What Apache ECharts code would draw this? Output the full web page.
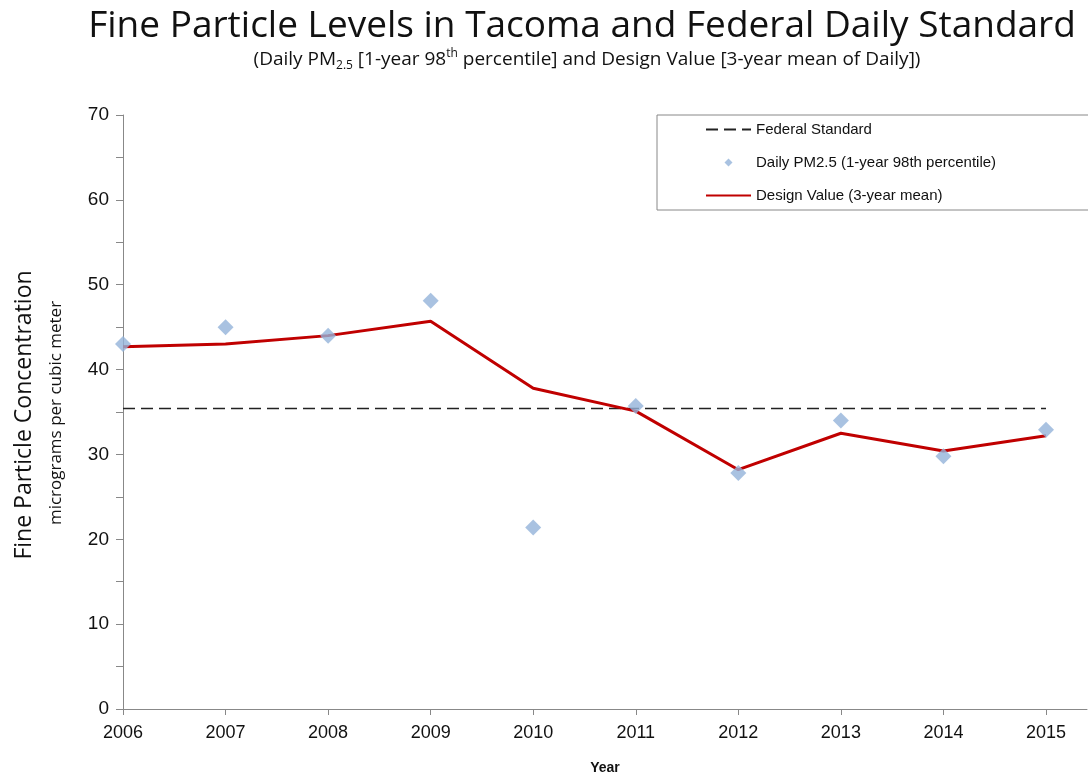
<!DOCTYPE html>
<html>
<head>
<meta charset="utf-8">
<script src="https://cdn.jsdelivr.net/npm/echarts@6/dist/echarts.min.js"></script>
<style>
  html, body { margin: 0; padding: 0; background: #fff; }
  #chart { width: 1088px; height: 776px; }
</style>
</head>
<body>
<div id="chart"></div>
<script>
// 年份
var years = [2006, 2007, 2008, 2009, 2010, 2011, 2012, 2013, 2014, 2015]
// Daily PM2.5 (1-year 98th percentile)
var dailyPM = [43, 45, 44, 48.1, 21.4, 35.7, 27.8, 34, 29.8, 32.9]
// Design Value (3-year mean)
var designValue = [42.7, 43, 44, 45.7, 37.8, 35.1, 28.2, 32.5, 30.4, 32.2]
// Federal Standard
var fedStandard = [35.4, 35.4, 35.4, 35.4, 35.4, 35.4, 35.4, 35.4, 35.4, 35.4]
var yTicks = [0, 10, 20, 30, 40, 50, 60, 70]

function pairs(vals) {
  return years.map(function (y, i) { return [y, vals[i]] })
}

var chart = echarts.init(document.getElementById('chart'))
// 图例里线条不要圆点
var hideDot = { color: 'rgba(0,0,0,0)', borderWidth: 0, opacity: 0 }
// 小菱形图标，两个极小三角撑开 45x10 的框，菱形不被拉伸
var diamondIcon = 'path://M0,0L0.01,0L0,0.01Z M45,10L44.99,10L45,9.99Z M18.5,5L22.5,1L26.5,5L22.5,9Z'
var option = {
  animation: false,
  textStyle: { fontFamily: 'Liberation Sans' },
  grid: { left: 123, right: 1, top: 115, bottom: 67, outerBoundsMode: 'none' },
  graphic: [
    {
      type: 'text', x: 582, y: 26,
      style: {
        text: 'Fine Particle Levels in Tacoma and Federal Daily Standard',
        fontFamily: 'Open Sans', fontSize: 37, fill: '#111', align: 'center', verticalAlign: 'middle'
      }
    },
    {
      type: 'text', x: 587, y: 60,
      style: {
        text: '(Daily PM{sub|2.5} [1-year 98{sup|th} percentile] and Design Value [3-year mean of Daily])',
        fontFamily: 'Open Sans', fontSize: 19, fill: '#111', align: 'center', verticalAlign: 'middle', lineHeight: 24,
        rich: {
          sub: { fontFamily: 'Open Sans', fontSize: 12, verticalAlign: 'bottom', lineHeight: 24, fill: '#111' },
          sup: { fontFamily: 'Open Sans', fontSize: 12, verticalAlign: 'top', lineHeight: 16, fill: '#111' }
        }
      }
    },
    {
      type: 'text', x: 24, y: 415, rotation: Math.PI / 2,
      style: {
        text: 'Fine Particle Concentration',
        fontFamily: 'Open Sans', fontSize: 23, fill: '#111', align: 'center', verticalAlign: 'middle'
      }
    },
    {
      type: 'text', x: 56, y: 413, rotation: Math.PI / 2,
      style: {
        text: 'micrograms per cubic meter',
        fontFamily: 'Open Sans', fontSize: 17, fill: '#111', align: 'center', verticalAlign: 'middle'
      }
    }
  ],
  legend: {
    orient: 'vertical',
    left: 657,
    top: 115,
    padding: [7, 200, 7, 48],
    itemGap: 18,
    itemWidth: 45,
    itemHeight: 10,
    borderColor: '#888',
    borderWidth: 1,
    textStyle: { fontFamily: 'Liberation Sans', fontSize: 15, color: '#111' },
    data: [
      { name: 'Federal Standard', itemStyle: hideDot },
      { name: 'Daily PM2.5 (1-year 98th percentile)', icon: diamondIcon },
      { name: 'Design Value (3-year mean)', itemStyle: hideDot }
    ]
  },
  xAxis: {
    type: 'value',
    min: 2006,
    max: 2015.4,
    name: 'Year',
    nameLocation: 'middle',
    nameGap: 52,
    nameTextStyle: { fontFamily: 'Liberation Sans', fontSize: 14, fontWeight: 'bold', color: '#111' },
    axisLine: { lineStyle: { color: '#888', width: 1 } },
    axisTick: { customValues: years, length: 6, lineStyle: { color: '#888' } },
    axisLabel: {
      customValues: years,
      fontSize: 18, color: '#111', margin: 15,
      formatter: function (v) { return String(v) }
    },
    splitLine: { show: false }
  },
  yAxis: {
    type: 'value',
    min: 0,
    max: 70,
    interval: 5,
    axisLine: { show: true, lineStyle: { color: '#888', width: 1 } },
    axisTick: { show: true, length: 7, lineStyle: { color: '#888' } },
    axisLabel: {
      fontSize: 19, color: '#111', margin: 14,
      formatter: function (v) { return yTicks.indexOf(v) >= 0 ? String(v) : '' }
    },
    splitLine: { show: false }
  },
  series: [
    {
      name: 'Federal Standard',
      type: 'line',
      symbol: 'none',
      data: pairs(fedStandard),
      lineStyle: { color: '#222', width: 1.5, type: [12, 6] },
      itemStyle: { color: '#222' },
      z: 2
    },
    {
      name: 'Daily PM2.5 (1-year 98th percentile)',
      type: 'scatter',
      symbol: 'diamond',
      symbolSize: 16,
      data: pairs(dailyPM),
      itemStyle: { color: '#94B3D9' },
      z: 4
    },
    {
      name: 'Design Value (3-year mean)',
      type: 'line',
      symbol: 'none',
      data: pairs(designValue),
      lineStyle: { color: '#C00000', width: 3 },
      itemStyle: { color: '#C00000' },
      z: 3
    }
  ]
}
chart.setOption(option)
</script>
</body>
</html>
